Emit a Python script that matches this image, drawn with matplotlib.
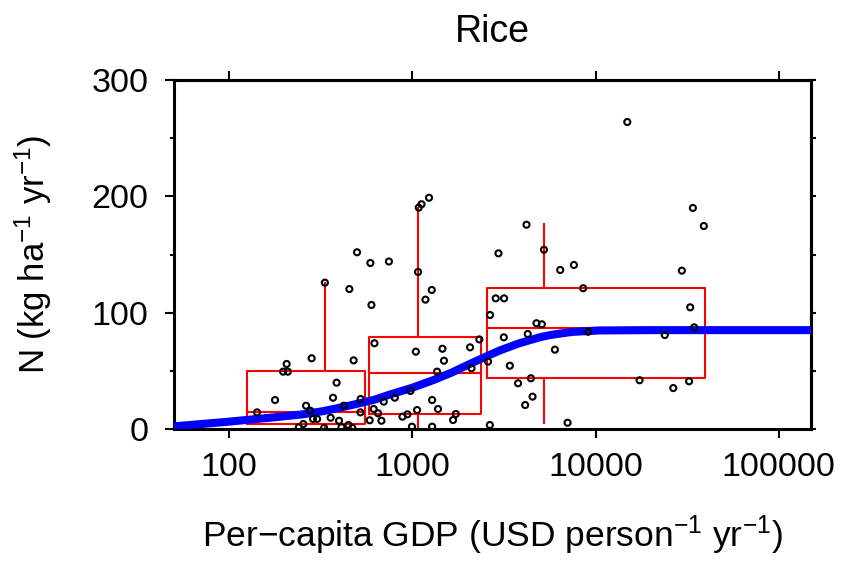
import matplotlib.pyplot as plt
from matplotlib.ticker import FixedLocator, NullLocator, NullFormatter

plt.rcParams['font.family'] = ['Liberation Sans', 'DejaVu Sans']
plt.rcParams['mathtext.fontset'] = 'custom'
plt.rcParams['mathtext.rm'] = 'Liberation Sans'
plt.rcParams['mathtext.it'] = 'Liberation Sans:italic'
plt.rcParams['mathtext.bf'] = 'Liberation Sans:bold'

# country points: per-capita GDP (USD) vs N rate on rice (kg/ha/yr)
gdp = [499, 590, 745, 333, 453, 598, 621, 206, 282, 478, 197, 209, 386, 178,
       369, 263, 522, 142, 521, 422, 277, 287, 302, 358, 398, 254, 448, 585,
       615, 650, 678, 698, 240, 330, 410, 470,
       1233, 1122, 1084, 1074, 1276, 1179, 1045, 1460, 2066, 1488, 2104, 2320,
       2589, 1364, 977, 802, 1282, 1381, 1061, 883, 940, 1727, 1668, 995, 1282,
       4198, 5228, 2952, 6413, 7621, 8559, 2852, 3167, 2655, 3157, 4760, 5094,
       4265, 6000, 9120, 3404, 4436, 3776, 4530, 4130, 7036, 2648,
       14900, 33980, 39000, 29580, 32850, 34550, 23880, 17390, 26560, 32410]
n_rate = [151.9, 142.7, 144, 125.8, 120.3, 106.6, 73.7, 55.9, 60.8, 59, 49.3, 49.3, 39.8, 24.9,
          26.9, 20, 25.8, 14.3, 14.3, 20, 15.7, 8.6, 8.6, 9.7, 7.1, 4.3, 3.4, 7.5,
          17.2, 13.5, 7.1, 23.5, 1.5, 1, 1.5, 1,
          198.8, 193.2, 190.3, 135, 119.5, 111.2, 66.5, 69, 70.2, 58.7, 52.2, 77,
          57.9, 49.3, 32.7, 26.9, 24.9, 17.2, 16.3, 10.6, 12.6, 12.9, 7.7, 2, 2,
          175.6, 154.1, 151, 136.7, 141, 121, 112.3, 112.3, 98, 78.8, 90.9, 90,
          81.7, 68.2, 83.6, 54.4, 43.6, 39.3, 27.8, 20.6, 5.4, 3.4,
          263.9, 190, 174.5, 136.1, 104.6, 87.4, 80.8, 41.9, 35.2, 41]

# fitted response curve
curve_gdp = [50, 95, 175, 252, 330, 450, 615, 750, 1000, 1300, 1640, 2000,
             2500, 3000, 3800, 5000, 5750, 7500, 10500, 20000, 150000]
curve_n = [2.3, 6, 10, 12.6, 15.5, 20, 25, 29.5, 35.5, 42, 48.5, 55,
           62, 67.5, 73.5, 79, 81, 83.5, 84.7, 85, 85]

# box summaries for three GDP groups
box_left = [125, 581, 2571]
box_right = [552, 2384, 39540]
box_mid = [333, 1075, 5230]
q1 = [4.3, 13, 43.6]
med = [15, 48.4, 86.6]
q3 = [49.5, 79.4, 121]
w_lo = [0, 2, 4.9]
w_hi = [125.8, 190, 176]

fig = plt.figure(figsize=(8.44, 5.62), dpi=100)
ax = fig.add_axes([174/844, 133/562, 637/844, 349/562])

for l, r, m, a, b, c, lo, hi in zip(box_left, box_right, box_mid, q1, med, q3, w_lo, w_hi):
    ax.plot([l, r, r, l, l], [a, a, c, c, a], color='red', lw=1.5, zorder=2)
    ax.plot([l, r], [b, b], color='red', lw=1.5, zorder=2)
    ax.plot([m, m], [c, hi], color='red', lw=1.5, zorder=2)
    ax.plot([m, m], [lo, a], color='red', lw=1.5, zorder=2)

ax.plot(curve_gdp, curve_n, color='blue', lw=5.8, solid_capstyle='butt', zorder=3)
ax.scatter(gdp, n_rate, s=19, facecolors='none', edgecolors='black', linewidths=1.5, zorder=4)

ax.set_xscale('log')
ax.set_xlim(50, 150000)
ax.set_ylim(0, 300)
ax.set_xticks([100, 1000, 10000, 100000], labels=['100', '1000', '10000', '100000'])
ax.xaxis.set_minor_locator(NullLocator())
ax.set_yticks([0, 100, 200, 300])
ax.yaxis.set_minor_locator(FixedLocator([50, 150, 250]))

for s in ax.spines.values():
    s.set_linewidth(2.2)
ax.tick_params(which='major', length=6.5, width=1.5, labelsize=24.5, direction='out')
ax.tick_params(axis='x', pad=10)
ax.tick_params(axis='y', pad=12)
ax.tick_params(which='minor', length=3, width=1.5, direction='out')

# unlabelled ticks on the top and right edges
top = ax.secondary_xaxis('top')
top.set_xticks([100, 1000, 10000, 100000])
top.xaxis.set_minor_locator(NullLocator())
top.xaxis.set_major_formatter(NullFormatter())
top.tick_params(length=6.5, width=1.5)
top.spines['top'].set_linewidth(2.2)

right = ax.secondary_yaxis('right')
right.set_yticks([0, 50, 100, 150, 200, 250, 300])
right.yaxis.set_minor_locator(NullLocator())
right.yaxis.set_major_formatter(NullFormatter())
right.tick_params(length=3.6, width=1.5)
right.spines['right'].set_linewidth(2.2)

ax.set_title('Rice', fontsize=27, pad=27)
ax.set_xlabel('Per\u2212capita GDP (USD person$^{\u22121}$ yr$^{\u22121}$)', fontsize=25.5, labelpad=22)
ax.set_ylabel('N (kg ha$^{\u22121}$ yr$^{\u22121}$)', fontsize=25, labelpad=27)

plt.savefig('out.png', dpi=100)
